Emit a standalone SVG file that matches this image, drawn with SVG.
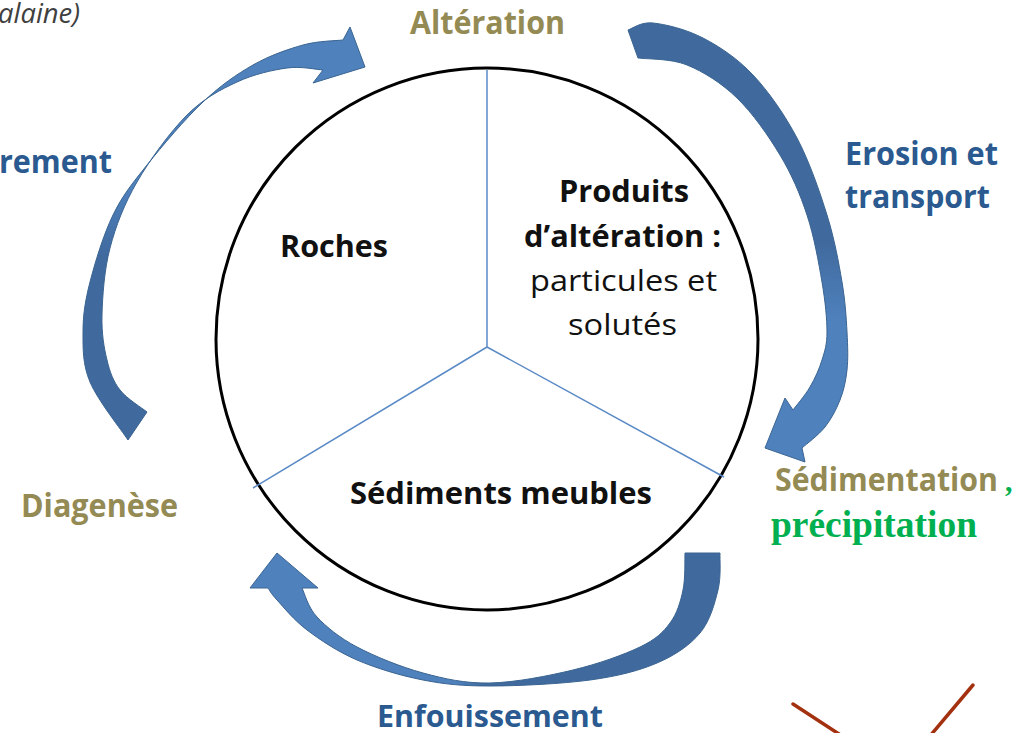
<svg xmlns="http://www.w3.org/2000/svg" width="1017" height="733" viewBox="0 0 1017 733">
  <style>
    .t { font-family: "Open Sans", "Noto Sans", "Liberation Sans", sans-serif; }
    .b { font-weight: bold; }
    .olive { fill: #948A54; }
    .blue { fill: #2A5A8F; }
    .blk { fill: #111111; }
    .div { stroke: #5A8AC6; stroke-width: 1.5; fill: none; }
    .arr { stroke: #3A6491; stroke-width: 1; stroke-linejoin: round; }
    .red { stroke: #A3310F; stroke-width: 3.5; stroke-linecap: round; fill: none; }
  </style>
  <defs>
    <linearGradient id="g1" gradientUnits="userSpaceOnUse" x1="0" y1="440" x2="0" y2="30">
      <stop offset="0" stop-color="#406A9E"/>
      <stop offset="0.45" stop-color="#406A9E"/>
      <stop offset="0.62" stop-color="#4F81BD"/>
      <stop offset="1" stop-color="#4F81BD"/>
    </linearGradient>
    <linearGradient id="g2" gradientUnits="userSpaceOnUse" x1="0" y1="25" x2="0" y2="460">
      <stop offset="0" stop-color="#406A9E"/>
      <stop offset="0.5" stop-color="#406A9E"/>
      <stop offset="0.68" stop-color="#4F81BD"/>
      <stop offset="1" stop-color="#4F81BD"/>
    </linearGradient>
    <linearGradient id="g3" gradientUnits="userSpaceOnUse" x1="720" y1="0" x2="250" y2="0">
      <stop offset="0" stop-color="#406A9E"/>
      <stop offset="0.5" stop-color="#406A9E"/>
      <stop offset="0.56" stop-color="#4F81BD"/>
      <stop offset="1" stop-color="#4F81BD"/>
    </linearGradient>
  </defs>
  <rect width="1017" height="733" fill="#FFFFFF"/>

  <g id="cycle">
    <circle cx="487" cy="339" r="271" fill="#FFFFFF" stroke="#000000" stroke-width="3"/>
    <line class="div" x1="487" y1="347" x2="487" y2="70"/>
    <line class="div" x1="487" y1="347" x2="253" y2="488"/>
    <line class="div" x1="487" y1="347" x2="724" y2="477"/>
  </g>

  <g id="roches">
    <text class="t b blk" x="280" y="257" font-size="30" textLength="108" lengthAdjust="spacingAndGlyphs">Roches</text>
  </g>
  <g id="produits">
    <text class="t b blk" x="559" y="202" font-size="30" textLength="130" lengthAdjust="spacingAndGlyphs">Produits</text>
    <text class="t b blk" x="524" y="247" font-size="30" textLength="197" lengthAdjust="spacingAndGlyphs">d’altération :</text>
    <text class="t blk" x="530" y="291" font-size="30" textLength="187" lengthAdjust="spacingAndGlyphs">particules et</text>
    <text class="t blk" x="568" y="335" font-size="30" textLength="109" lengthAdjust="spacingAndGlyphs">solutés</text>
  </g>
  <g id="sediments">
    <text class="t b blk" x="350" y="504" font-size="30" textLength="302" lengthAdjust="spacingAndGlyphs">Sédiments meubles</text>
  </g>

  <g id="connectors">
    <path id="arrow-alteration" class="arr" fill="url(#g1)" d="M128,440 C121.7,430.3 97.5,400 90,382 C82.5,364 83,348.7 83,332 C83,315.3 85,301.5 90,282 C95,262.5 103.5,234.5 113,215 C122.5,195.5 132,183.8 147,165 C162,146.2 185.3,118.7 203,102 C220.7,85.3 236.3,74.5 253,65 C269.7,55.5 288,49.2 303,45 C318,40.8 336.3,40.8 343,40 L350,27 L365,67 L313,83 L323,70 C317,69.7 301.3,66 287,68 C272.7,70 253.7,74.2 237,82 C220.3,89.8 203.7,98.3 187,115 C170.3,131.7 149.8,159.8 137,182 C124.2,204.2 115.8,225.8 110,248 C104.2,270.2 102.5,296.3 102,315 C101.5,333.7 104,347.5 107,360 C110,372.5 113.3,381.3 120,390 C126.7,398.7 142.5,408.3 147,412 Z"/>
    <path id="arrow-erosion" class="arr" fill="url(#g2)" d="M628,30 C632.2,28.8 640.5,21.7 653,23 C665.5,24.3 686.3,29.3 703,38 C719.7,46.7 737.3,58.3 753,75 C768.7,91.7 784.7,114.7 797,138 C809.3,161.3 819.5,191 827,215 C834.5,239 838.7,262.5 842,282 C845.3,301.5 846.2,317.3 847,332 C847.8,346.7 848.2,358.7 847,370 C845.8,381.3 843.7,390.5 840,400 C836.3,409.5 831.3,419 825,427 C818.7,435 805.8,444.5 802,448 L805,462 L765,448 L785,398 L793,410 C795.8,406.2 805.2,395.3 810,387 C814.8,378.7 819.2,369.2 822,360 C824.8,350.8 827,345 827,332 C827,319 825.3,301.5 822,282 C818.7,262.5 814,236.2 807,215 C800,193.8 791.7,174.5 780,155 C768.3,135.5 752.5,113 737,98 C721.5,83 703.5,71.7 687,65 C670.5,58.3 646.2,59.2 638,58 Z"/>
    <path id="arrow-enfouissement" class="arr" fill="url(#g3)" d="M720,553 C719.7,559.2 721.3,576.7 718,590 C714.7,603.3 710.2,620.8 700,633 C689.8,645.2 675.3,655.2 657,663 C638.7,670.8 617.8,676.2 590,680 C562.2,683.8 517.8,686 490,686 C462.2,686 445.2,684.3 423,680 C400.8,675.7 376.3,668.3 357,660 C337.7,651.7 320.3,640 307,630 C293.7,620 283.5,607 277,600 C270.5,593 269.5,590 268,588 L250,588 L277,553 L318,588 L302,588 C304.5,592.8 307.8,607.2 317,617 C326.2,626.8 339.3,637.7 357,647 C374.7,656.3 400.8,667 423,673 C445.2,679 465,683.5 490,683 C515,682.5 548,676 573,670 C598,664 623.8,654.8 640,647 C656.2,639.2 662.8,632.5 670,623 C677.2,613.5 680.5,601.7 683,590 C685.5,578.3 684.7,559.2 685,553 Z"/>
  </g>

  <g id="label-top-left">
    <text class="t" x="-2" y="23" font-size="27" font-style="italic" fill="#404040" textLength="82" lengthAdjust="spacingAndGlyphs">alaine)</text>
  </g>
  <g id="label-alteration">
    <text class="t b olive" x="410" y="34" font-size="32" textLength="155" lengthAdjust="spacingAndGlyphs">Altération</text>
  </g>
  <g id="label-rement">
    <text class="t b blue" x="-1" y="173" font-size="32" textLength="113" lengthAdjust="spacingAndGlyphs">rement</text>
  </g>
  <g id="label-erosion">
    <text class="t b blue" x="845" y="165" font-size="32" textLength="153" lengthAdjust="spacingAndGlyphs">Erosion et</text>
    <text class="t b blue" x="845" y="208" font-size="32" textLength="145" lengthAdjust="spacingAndGlyphs">transport</text>
  </g>
  <g id="label-sedimentation">
    <text class="t b olive" x="775" y="491" font-size="32" textLength="223" lengthAdjust="spacingAndGlyphs">Sédimentation</text>
    <text x="1005" y="491" font-family="'Liberation Serif', serif" font-weight="bold" font-size="30" fill="#00B050">,</text>
    <text x="771" y="537" font-family="'Liberation Serif', serif" font-weight="bold" font-size="38" fill="#00B050" textLength="206" lengthAdjust="spacingAndGlyphs">précipitation</text>
  </g>
  <g id="label-diagenese">
    <text class="t b olive" x="21" y="517" font-size="32" textLength="157" lengthAdjust="spacingAndGlyphs">Diagenèse</text>
  </g>
  <g id="label-enfouissement">
    <text class="t b blue" x="377" y="727" font-size="31" textLength="226" lengthAdjust="spacingAndGlyphs">Enfouissement</text>
  </g>

  <g id="red-marks">
    <line class="red" x1="793" y1="704" x2="842" y2="736"/>
    <line class="red" x1="973" y1="685" x2="930" y2="736"/>
  </g>
</svg>
